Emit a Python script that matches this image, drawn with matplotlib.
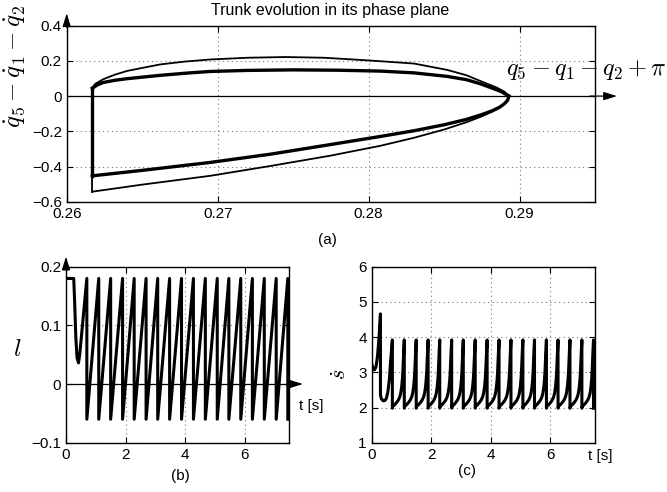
import numpy as np
import matplotlib
matplotlib.use("Agg")
import matplotlib.pyplot as plt

plt.rcParams['font.family'] = ['Liberation Sans', 'DejaVu Sans']
plt.rcParams['mathtext.fontset'] = 'cm'

# ---------------- data (a): phase plane ----------------
q_outer_up = [0.2617, 0.2619, 0.2624, 0.2632, 0.2640, 0.2650, 0.2662, 0.2678, 0.2695,
              0.2720, 0.2745, 0.2770, 0.2790, 0.2808, 0.2830, 0.2852, 0.2865, 0.2874,
              0.2885, 0.2890, 0.2893]
v_outer_up = [0.048, 0.070, 0.095, 0.122, 0.143, 0.160, 0.180, 0.196, 0.208,
              0.218, 0.222, 0.218, 0.208, 0.198, 0.185, 0.149, 0.118, 0.086,
              0.048, 0.025, 0.0]
q_outer_low = [0.2893, 0.2892, 0.2890, 0.2887, 0.2882, 0.2875, 0.2865, 0.2850, 0.2830,
               0.2808, 0.2775, 0.2735, 0.2695, 0.2650, 0.2617]
v_outer_low = [0.0, -0.026, -0.045, -0.065, -0.088, -0.115, -0.148, -0.190, -0.237,
               -0.282, -0.338, -0.397, -0.453, -0.503, -0.543]
q_inner_up = [0.2617, 0.2620, 0.2624, 0.2632, 0.2640, 0.2662, 0.2680, 0.2695, 0.2720,
              0.2750, 0.2780, 0.2808, 0.2830, 0.2852, 0.2865, 0.2874, 0.2882, 0.2888,
              0.2893]
v_inner_up = [0.045, 0.062, 0.077, 0.090, 0.099, 0.118, 0.131, 0.140, 0.146,
              0.149, 0.147, 0.142, 0.132, 0.112, 0.093, 0.070, 0.045, 0.025, 0.0]
q_inner_low = [0.2893, 0.2892, 0.2890, 0.2887, 0.2882, 0.2875, 0.2865, 0.2850, 0.2830,
               0.2808, 0.2775, 0.2735, 0.2695, 0.2650, 0.2617]
v_inner_low = [0.0, -0.025, -0.043, -0.062, -0.083, -0.105, -0.132, -0.163, -0.197,
               -0.229, -0.275, -0.330, -0.377, -0.422, -0.453]

# ---------------- data (b), (c): time series ----------------
impact_times = [0.70, 1.10, 1.50, 1.90, 2.29, 2.69, 3.08, 3.48, 3.88, 4.28,
                4.68, 5.08, 5.47, 5.87, 6.26, 6.66, 7.06, 7.45]
l_start_t = [0.0, 0.26, 0.29, 0.33, 0.37, 0.42, 0.46, 0.70]
l_start_v = [0.18, 0.18, 0.14, 0.08, 0.045, 0.036, 0.05, 0.18]
l_top = 0.18
l_bottom = -0.06

s_start_t = [0.0, 0.05, 0.10, 0.15, 0.20, 0.25, 0.30, 0.30, 0.33, 0.39, 0.45,
             0.50, 0.55, 0.60, 0.64, 0.70]
s_start_v = [3.26, 3.12, 3.07, 3.15, 3.45, 3.95, 4.66, 2.36, 2.25, 2.19, 2.20,
             2.26, 2.45, 2.80, 3.30, 3.92]
s_tooth_phase = [0.0, 0.05, 0.20, 0.35, 0.50, 0.62, 0.70, 0.78, 0.84, 0.88, 0.92, 0.96, 1.0]
s_tooth_vals = [1.98, 2.04, 2.08, 2.14, 2.21, 2.30, 2.40, 2.58, 2.80, 3.02, 3.35, 3.65, 3.92]

# build l(t)
t_l = list(l_start_t)
l_v = list(l_start_v)
for i, ti in enumerate(impact_times):
    t_l.append(ti); l_v.append(l_bottom)
    if i + 1 < len(impact_times):
        t_l.append(impact_times[i + 1]); l_v.append(l_top)

# build s_dot(t)
t_s = list(s_start_t)
s_v = list(s_start_v)
for i, ti in enumerate(impact_times):
    if i + 1 < len(impact_times):
        T = impact_times[i + 1] - ti
        for ph, val in zip(s_tooth_phase, s_tooth_vals):
            t_s.append(ti + ph * T); s_v.append(val)
    else:
        t_s.append(ti); s_v.append(s_tooth_vals[0])

W, H = 667, 492
fig = plt.figure(figsize=(W / 100, H / 100), dpi=100)

def fx(px):
    return px / W

def fy(py):
    return 1 - py / H

def style(ax):
    ax.tick_params(direction='in', length=4, width=0.8, top=True, right=True,
                   labelsize=11, pad=3.5)
    for s in ax.spines.values():
        s.set_linewidth(1.0)
    ax.grid(True, linestyle=(0, (1, 3)), color='#777777', linewidth=0.8)
    ax.set_axisbelow(True)

arrow_kw = dict(arrowstyle='-|>,head_length=0.8,head_width=0.25', color='k',
                lw=0.9, shrinkA=0, shrinkB=0, mutation_scale=10)

# ---------------- (a) ----------------
axA = fig.add_axes([fx(66.7), fy(201.7), (595 - 66.7) / W, 176 / H])
style(axA)
axA.set_xlim(0.26, 0.295)
axA.set_ylim(-0.6, 0.4)
axA.set_xticks([0.26, 0.27, 0.28, 0.29])
axA.set_xticklabels(['0.26', '0.27', '0.28', '0.29'])
axA.set_yticks([-0.6, -0.4, -0.2, 0, 0.2, 0.4])
axA.set_yticklabels(['\u22120.6', '\u22120.4', '\u22120.2', '0', '0.2', '0.4'])
axA.axhline(0, color='k', lw=0.9, zorder=2)
# transient first cycle (thin)
axA.plot(q_outer_up, v_outer_up, color='k', lw=1.3, zorder=3)
axA.plot(q_outer_low, v_outer_low, color='k', lw=1.3, zorder=3)
axA.plot([q_outer_low[-1], q_inner_up[0]], [v_outer_low[-1], v_inner_up[0]],
         color='k', lw=1.3, zorder=3)
# steady cycle (thick)
axA.plot(q_inner_up, v_inner_up, color='k', lw=2.4, zorder=4)
axA.plot(q_inner_low, v_inner_low, color='k', lw=2.4, zorder=4)
axA.plot([q_inner_low[-1], q_inner_up[0]], [v_inner_low[-1], v_inner_up[0]],
         color='k', lw=2.4, zorder=4)
axA.annotate('', xy=(1.0416, 0), xytext=(0.99, 0),
             xycoords=('axes fraction', 'data'), textcoords=('axes fraction', 'data'),
             arrowprops=arrow_kw, annotation_clip=False)
axA.annotate('', xy=(0, 1.0705), xytext=(0, 0.99),
             xycoords='axes fraction', arrowprops=arrow_kw, annotation_clip=False)

fig.text(fx(330), fy(10), 'Trunk evolution in its phase plane', ha='center',
         va='center', fontsize=11.5)
fig.text(fx(586), fy(70), r'$q_5 - q_1 - q_2 + \pi$', ha='center', va='center',
         fontsize=17.5)
fig.text(fx(15), fy(66), r'$\dot{q}_5 - \dot{q}_1 - \dot{q}_2$', ha='center',
         va='center', rotation=90, fontsize=18)
fig.text(fx(327), fy(240), '(a)', ha='center', va='center', fontsize=11)

# ---------------- (b) ----------------
axB = fig.add_axes([fx(66.0), fy(442.7), (289.3 - 66.0) / W, 176 / H])
style(axB)
axB.set_xlim(0, 7.5)
axB.set_ylim(-0.1, 0.2)
axB.set_xticks([0, 2, 4, 6])
axB.set_yticks([-0.1, 0, 0.1, 0.2])
axB.set_yticklabels(['\u22120.1', '0', '0.1', '0.2'])
axB.axhline(0, color='k', lw=0.9, zorder=2)
axB.plot(t_l, l_v, color='k', lw=2.2, zorder=3)
axB.annotate('', xy=(1.061, 0), xytext=(0.99, 0),
             xycoords=('axes fraction', 'data'), textcoords=('axes fraction', 'data'),
             arrowprops=arrow_kw, annotation_clip=False)
axB.annotate('', xy=(0, 1.057), xytext=(0, 0.99),
             xycoords='axes fraction', arrowprops=arrow_kw, annotation_clip=False)
fig.text(fx(311), fy(406), 't [s]', ha='center', va='center', fontsize=11)
fig.text(fx(17), fy(349), r'$l$', ha='center', va='center', fontsize=18)
fig.text(fx(180), fy(476), '(b)', ha='center', va='center', fontsize=11)

# ---------------- (c) ----------------
axC = fig.add_axes([fx(371.5), fy(442.7), (595 - 371.5) / W, 176 / H])
style(axC)
axC.set_xlim(0, 7.5)
axC.set_ylim(1, 6)
axC.set_xticks([0, 2, 4, 6])
axC.set_yticks([1, 2, 3, 4, 5, 6])
axC.plot(t_s, s_v, color='k', lw=2.2, zorder=3)
fig.text(fx(600), fy(456), 't [s]', ha='center', va='center', fontsize=11)
fig.text(fx(341), fy(374), r'$\dot{s}$', ha='center', va='center', rotation=90,
         fontsize=16)
fig.text(fx(467), fy(471), '(c)', ha='center', va='center', fontsize=11)

fig.savefig('out.png', dpi=100)
